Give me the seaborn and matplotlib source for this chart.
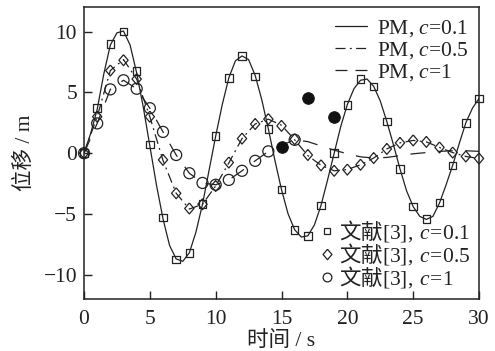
import numpy as np
import pandas as pd
import matplotlib
matplotlib.use("Agg")
import matplotlib.pyplot as plt
import seaborn as sns
from matplotlib.lines import Line2D

# ---------------- data ----------------
t_line01 = [0, 0.5, 1, 1.5, 2, 2.5, 3, 3.5, 4, 4.5, 5, 5.5, 6, 6.5, 7, 7.5, 8, 8.5, 9, 9.5,
            10, 10.5, 11, 11.5, 12, 12.5, 13, 13.5, 14, 14.5, 15, 15.5, 16, 16.5, 17, 17.5,
            18, 18.5, 19, 19.5, 20, 20.5, 21, 21.5, 22, 22.5, 23, 23.5, 24, 24.5, 25, 25.5,
            26, 26.5, 27, 27.5, 28, 28.5, 29, 29.5, 30]
pm_c01 = [0, 1.6, 3.6, 6.5, 8.9, 9.9, 10.05, 8.9, 6.6, 3.8, 0.6, -2.6, -5.4, -7.6, -8.7, -8.9,
          -8.2, -6.5, -4.2, -1.4, 1.4, 4.0, 6.2, 7.6, 8.0, 7.7, 6.4, 4.4, 2.0, -0.6, -3.0, -5.0,
          -6.3, -6.9, -6.8, -5.9, -4.3, -2.2, 0.0, 2.2, 4.0, 5.3, 6.0, 6.1, 5.5, 4.3, 2.6, 0.7,
          -1.3, -3.1, -4.4, -5.2, -5.45, -5.2, -4.1, -2.6, -1.0, 0.8, 2.5, 3.7, 4.5]

t_int = list(range(31))
pm_c05 = [0, 3.0, 6.8, 7.7, 6.1, 3.0, -0.6, -3.3, -4.6, -4.2, -2.7, -0.8, 1.2, 2.4, 2.8, 2.3,
          1.1, -0.2, -1.0, -1.45, -1.35, -0.95, -0.4, 0.35, 0.85, 1.05, 0.93, 0.47, 0.05,
          -0.27, -0.44]
pm_c1 = [0, 2.45, 5.25, 6.0, 5.3, 3.7, 1.75, -0.15, -1.65, -2.45, -2.6, -2.2, -1.45, -0.63,
         0.15, 0.65, 1.1, 0.95, 0.6, 0.25, -0.05, -0.3, -0.4, -0.35, -0.2, -0.05, 0.05, 0.15,
         0.2, 0.2, 0.15]

ref_c01 = [0, 3.7, 9.0, 10.0, 6.75, 0.7, -5.3, -8.75, -8.2, -4.2, 1.4, 6.2, 8.0, 6.3, 2.0,
           -3.0, -6.3, -6.8, -4.3, 0.0, 3.95, 6.1, 5.5, 2.6, -1.3, -4.4, -5.4, -4.05, -1.0,
           2.5, 4.5]
ref_c05 = [0, 3.0, 6.8, 7.65, 6.1, 3.0, -0.55, -3.3, -4.55, -4.2, -2.7, -0.77, 1.2, 2.4, 2.8,
           2.25, 1.15, -0.15, -1.0, -1.45, -1.35, -0.95, -0.4, 0.35, 0.85, 1.05, 0.93, 0.47,
           0.05, -0.27, -0.44]
t_ref_c1 = [0, 1, 2, 3, 4, 5, 6, 7, 8, 9, 10, 11, 12, 13, 14, 16]
ref_c1 = [0, 2.45, 5.25, 6.0, 5.3, 3.7, 1.75, -0.15, -1.65, -2.45, -2.6, -2.2, -1.45, -0.63,
          0.15, 1.1]
t_dots = [15, 17, 19]
dots = [0.5, 4.55, 2.95]

xticks = [0, 5, 10, 15, 20, 25, 30]
yticks = [-10, -5, 0, 5, 10]
line_labels = [r"PM, $c$=0.1", r"PM, $c$=0.5", r"PM, $c$=1"]
ref_labels = [r"文献$\mathrm{[3],}\;c\!=\!\mathrm{0.1}$",
              r"文献$\mathrm{[3],}\;c\!=\!\mathrm{0.5}$",
              r"文献$\mathrm{[3],}\;c\!=\!\mathrm{1}$"]

# ---------------- style ----------------
sns.set_style("ticks")
plt.rcParams["font.family"] = ["Liberation Serif", "Noto Sans CJK SC"]
plt.rcParams["mathtext.fontset"] = "custom"
plt.rcParams["mathtext.rm"] = "Liberation Serif"
plt.rcParams["mathtext.it"] = "Liberation Serif:italic"
plt.rcParams["axes.unicode_minus"] = True

FS = 15.5
ink = "#222222"
DIAMOND = [(0, 1), (0.85, 0), (0, -1), (-0.85, 0), (0, 1)]

fig = plt.figure(figsize=(4.95, 3.51), dpi=100)
ax = fig.add_axes([0.1697, 0.1481, 0.798, 0.831])

lw = 0.9
DASHDOT = (0, (8, 3.5, 1.5, 3.5))
DASH = (0, (12, 10))
sns.lineplot(x=t_line01, y=pm_c01, ax=ax, color=ink, lw=lw, estimator=None, sort=False)
sns.lineplot(x=t_int, y=pm_c05, ax=ax, color=ink, lw=lw, estimator=None, sort=False)
sns.lineplot(x=t_int, y=pm_c1, ax=ax, color=ink, lw=lw, estimator=None, sort=False)
lines = ax.get_lines()
lines[0].set_linestyle("-")
lines[1].set_linestyle(DASHDOT)
lines[2].set_linestyle(DASH)

mk = dict(facecolor="none", edgecolor=ink, linewidth=0.9, zorder=3, clip_on=False)
sns.scatterplot(x=t_int, y=ref_c01, ax=ax, marker="s", s=30, **mk)
sns.scatterplot(x=t_int, y=ref_c05, ax=ax, marker=DIAMOND, s=62, **mk)
sns.scatterplot(x=t_ref_c1, y=ref_c1, ax=ax, marker="o", s=63, **mk)
sns.scatterplot(x=t_dots, y=dots, ax=ax, marker="o", s=70, color="#111111",
                edgecolor="#111111", zorder=4)

ax.set_xlim(0, 30)
ax.set_ylim(-12, 12)
ax.set_xticks(xticks)
ax.set_yticks(yticks)
ax.tick_params(direction="in", length=6, width=1.0, colors=ink, labelsize=FS,
               labelcolor=ink)
ax.tick_params(axis="x", pad=8)
ax.tick_params(axis="y", pad=5)
for sp in ax.spines.values():
    sp.set_visible(True)
    sp.set_linewidth(1.1)
    sp.set_color(ink)

ax.set_xlabel("时间 / s", fontsize=FS, color=ink, labelpad=1)
ax.set_ylabel("位移 / m", fontsize=FS, color=ink, labelpad=6)

# legends
h_lines = [Line2D([], [], color=ink, lw=lw, ls="-"),
           Line2D([], [], color=ink, lw=lw, ls=DASHDOT),
           Line2D([], [], color=ink, lw=lw, ls=(0, (9.6, 6.4)))]
leg1 = ax.legend(h_lines, line_labels, loc="upper right", frameon=False, fontsize=FS,
                 handlelength=1.5, handletextpad=0.45, labelspacing=0.05,
                 borderaxespad=0.4, borderpad=0.1, labelcolor=ink)
for txt in leg1.get_texts():
    txt.set_fontfamily("Liberation Serif")
ax.add_artist(leg1)

h_mk = [Line2D([], [], ls="none", marker="s", ms=4.8, mfc="none", mec=ink, mew=0.9),
        Line2D([], [], ls="none", marker=DIAMOND, ms=7.5, mfc="none", mec=ink, mew=0.9),
        Line2D([], [], ls="none", marker="o", ms=6.3, mfc="none", mec=ink, mew=0.9)]
leg2 = ax.legend(h_mk, ref_labels, loc="lower right", frameon=False,
                 prop={"family": "Noto Sans CJK SC", "size": FS},
                 handlelength=0.6, handletextpad=0.25, labelspacing=-0.13,
                 borderaxespad=0.3, borderpad=0.1, labelcolor=ink)

fig.savefig("out.png", dpi=100)
